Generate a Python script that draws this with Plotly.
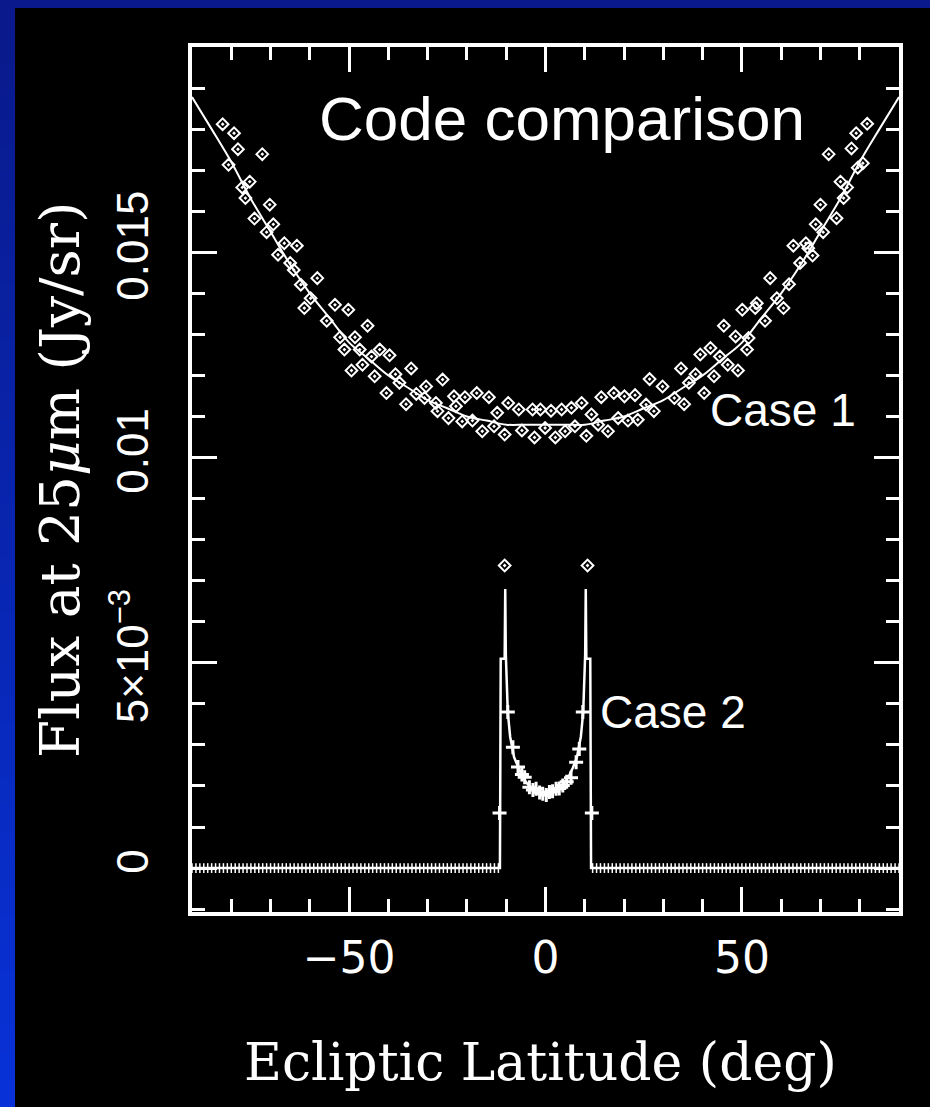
import plotly.graph_objects as go

# ---------------- data ----------------
# Case 1 model curve (ecliptic latitude in deg, flux in Jy/sr)
case1_model_lat = [-90, -85, -80, -75, -70, -65, -60, -55, -50, -45, -40, -35, -30, -25, -20, -15, -10, -5, 0,
                   5, 10, 15, 20, 25, 30, 35, 40, 45, 50, 55, 60, 65, 70, 75, 80, 85, 90]
case1_model_val = [0.01878, 0.0180, 0.0172, 0.0163, 0.0155, 0.0147, 0.0140, 0.0134, 0.0128, 0.0124, 0.0120,
                   0.0117, 0.0114, 0.0112, 0.0110, 0.0109, 0.0108, 0.0108, 0.0108,
                   0.0108, 0.0108, 0.0109, 0.0110, 0.0112, 0.0114, 0.0117, 0.0120, 0.0124, 0.0128, 0.0134,
                   0.0140, 0.0147, 0.0155, 0.0163, 0.0172, 0.0180, 0.01878]

# Case 1 simulated points (scattered)
case1_pts_lat = [-82.2, -79.3, -78.3, -80.7, -72.1, -75.3, -77.2, -76.4, -74.1, -70.2, -69.3, -71.0, -66.5, -63.3,
                 -68.1, -65.0, -64.1, -62.3, -58.1, -59.8, -61.4, -55.7, -53.6, -50.2, -45.3, -52.3, -48.5, -51.2,
                 -47.3, -42.2, -39.7, -44.3, -46.6, -49.4, -43.5, -38.2, -34.2, -37.2, -40.5, -35.5, -32.9, -30.4,
                 -26.2, -30.8, -27.9, -27.5, -24.7, -23.3, -22.8, -20.5, -17.5, -14.4, -21.2, -18.6, -16.1, -12.3,
                 -13.1, -10.4, -9.5, -6.8, -3.3, -1.3, 1.4, -6.0, -2.8, -0.1, 2.5,
                 81.9, 79.1, 77.9, 72.1, 80.8, 79.5, 75.1, 76.8, 75.9, 70.0, 68.8, 70.7, 74.1, 63.1, 66.3, 66.9,
                 64.8, 62.0, 68.0, 57.2, 58.9, 60.6, 53.8, 53.4, 50.1, 55.9, 45.4, 48.4, 51.7, 51.3, 42.0, 39.4,
                 44.4, 46.4, 49.0, 42.9, 34.5, 38.2, 36.5, 40.4, 35.3, 26.5, 29.8, 32.8, 27.6, 25.6, 22.8, 20.1,
                 17.4, 14.2, 9.2, 11.7, 13.4, 15.9, 18.5, 21.0, 23.5, 6.6, 4.1, 7.5, 5.0, 10.4]
case1_pts_val = [0.01812, 0.01790, 0.01751, 0.01713, 0.01739, 0.01672, 0.01658, 0.01632, 0.01582, 0.01616, 0.01568,
                 0.01549, 0.01522, 0.01516, 0.01494, 0.01474, 0.01457, 0.01421, 0.01437, 0.01388, 0.01364, 0.01333,
                 0.01372, 0.01360, 0.01321, 0.01293, 0.01293, 0.01263, 0.01263, 0.01263, 0.01249, 0.01246, 0.01226,
                 0.01212, 0.01198, 0.01203, 0.01217, 0.01182, 0.01157, 0.01130, 0.01155, 0.01173, 0.01190, 0.01145,
                 0.01133, 0.01113, 0.01096, 0.01149, 0.01125, 0.01147, 0.01157, 0.01147, 0.01088, 0.01090, 0.01064,
                 0.01109, 0.01076, 0.01056, 0.01133, 0.01117, 0.01117, 0.01117, 0.01114, 0.01066, 0.01049, 0.01072,
                 0.01049,
                 0.01813, 0.01790, 0.01753, 0.01739, 0.01717, 0.01706, 0.01672, 0.01658, 0.01632, 0.01616, 0.01568,
                 0.01549, 0.01583, 0.01516, 0.01522, 0.01510, 0.01474, 0.01422, 0.01492, 0.01437, 0.01388, 0.01364,
                 0.01376, 0.01364, 0.01360, 0.01333, 0.01321, 0.01295, 0.01291, 0.01263, 0.01267, 0.01251, 0.01246,
                 0.01226, 0.01212, 0.01198, 0.01217, 0.01203, 0.01182, 0.01157, 0.01130, 0.01191, 0.01173, 0.01145,
                 0.01113, 0.01129, 0.01152, 0.01149, 0.01157, 0.01147, 0.01133, 0.01105, 0.01080, 0.01064, 0.01096,
                 0.01090, 0.01092, 0.01121, 0.01117, 0.01076, 0.01064, 0.01053]

# Case 2 model curve
case2_model_lat = [-90, -11.6, -11.4, -10.4, -10.25, -10.1, -9.6, -9, -8, -7, -6, -5, -4, -3, -2, -1, 0,
                   1, 2, 3, 4, 5, 6, 7, 8, 9, 9.6, 10.1, 10.25, 10.4, 11.4, 11.6, 90]
case2_model_val = [0.0, 0.0, 0.0051, 0.0051, 0.0068, 0.0052, 0.0038, 0.0032, 0.0027, 0.00245, 0.00225, 0.0021,
                   0.00198, 0.0019, 0.00185, 0.0018, 0.00178,
                   0.0018, 0.00185, 0.0019, 0.00198, 0.0021, 0.00225, 0.00245, 0.0027, 0.0032, 0.0038, 0.0052,
                   0.0068, 0.0051, 0.0051, 0.0, 0.0]

# Case 2 simulated points inside the band
case2_pts_lat = [-11.7, -9.6, -8.3, -7.0, -6.0, -5.3, -4.1, -3.2, -2.4, -1.5, -0.7, 0.2, 1.0, 1.8, 2.7, 3.5,
                 4.4, 5.4, 6.5, 7.8, 8.6, 9.5, 11.8]
case2_pts_val = [0.00134, 0.0038, 0.00294, 0.00246, 0.00228, 0.00221, 0.00197, 0.0019, 0.00193, 0.00184, 0.00181,
                 0.00178, 0.00185, 0.00187, 0.00193, 0.00194, 0.00201, 0.0021, 0.0022, 0.00258, 0.0029, 0.0038,
                 0.00134]
case2_peak_lat = [-10.4, 10.7]
case2_peak_val = [0.00737, 0.00737]

# Case 2 points outside the band (zero flux), one per degree
case2_zero_lat = [-90, -89, -88, -87, -86, -85, -84, -83, -82, -81, -80, -79, -78, -77, -76, -75, -74, -73, -72,
                  -71, -70, -69, -68, -67, -66, -65, -64, -63, -62, -61, -60, -59, -58, -57, -56, -55, -54, -53,
                  -52, -51, -50, -49, -48, -47, -46, -45, -44, -43, -42, -41, -40, -39, -38, -37, -36, -35, -34,
                  -33, -32, -31, -30, -29, -28, -27, -26, -25, -24, -23, -22, -21, -20, -19, -18, -17, -16, -15,
                  -14, -13, -12,
                  12, 13, 14, 15, 16, 17, 18, 19, 20, 21, 22, 23, 24, 25, 26, 27, 28, 29, 30, 31, 32, 33, 34, 35,
                  36, 37, 38, 39, 40, 41, 42, 43, 44, 45, 46, 47, 48, 49, 50, 51, 52, 53, 54, 55, 56, 57, 58, 59,
                  60, 61, 62, 63, 64, 65, 66, 67, 68, 69, 70, 71, 72, 73, 74, 75, 76, 77, 78, 79, 80, 81, 82, 83,
                  84, 85, 86, 87, 88, 89, 90]
case2_zero_val = [0.0] * len(case2_zero_lat)

x_tickvals = [-50, 0, 50]
x_ticktext = ["\u221250", "0", "50"]
y_tickvals = [0, 0.005, 0.01, 0.015]
y_ticktext = ["0", "5\u00d710<sup>\u22123</sup>", "0.01", "0.015"]

# ---------------- layout helpers ----------------
W, H = 930, 1107
L, R, T, B = 192, 31, 47, 195
PW, PH = W - L - R, H - T - B


def px(xp):
    return (xp - L) / PW


def py(yp):
    return (H - B - yp) / PH


WHITE = "white"
fig = go.Figure()

fig.add_trace(go.Scatter(x=case2_model_lat, y=case2_model_val, mode="lines",
                         line=dict(color=WHITE, width=2.5), showlegend=False, hoverinfo="skip"))
fig.add_trace(go.Scatter(x=case2_zero_lat, y=case2_zero_val, mode="markers",
                         marker=dict(symbol="line-ns", size=7, line=dict(color=WHITE, width=1.5)),
                         showlegend=False, hoverinfo="skip"))
fig.add_trace(go.Scatter(x=case2_pts_lat, y=case2_pts_val, mode="markers",
                         marker=dict(symbol="cross-thin", size=10, line=dict(color=WHITE, width=3)),
                         showlegend=False, hoverinfo="skip"))
fig.add_trace(go.Scatter(x=case2_peak_lat, y=case2_peak_val, mode="markers",
                         marker=dict(symbol="diamond-open-dot", size=9, color=WHITE, line=dict(color=WHITE, width=2)),
                         showlegend=False, hoverinfo="skip"))
fig.add_trace(go.Scatter(x=case1_model_lat, y=case1_model_val, mode="lines",
                         line=dict(color=WHITE, width=2), line_shape="spline", showlegend=False, hoverinfo="skip"))
fig.add_trace(go.Scatter(x=case1_pts_lat, y=case1_pts_val, mode="markers",
                         marker=dict(symbol="diamond-open-dot", size=9, color=WHITE, line=dict(color=WHITE, width=2)),
                         showlegend=False, hoverinfo="skip"))

axis_common = dict(showline=True, linecolor=WHITE, linewidth=4, mirror="allticks", ticks="inside",
                   tickcolor=WHITE, tickwidth=3, ticklen=25, showgrid=False, zeroline=False)

fig.update_xaxes(range=[-90, 90], tickmode="array", tickvals=x_tickvals, ticktext=x_ticktext,
                 tickfont=dict(family="DejaVu Sans", size=44, color=WHITE), ticklabelstandoff=4,
                 minor=dict(ticks="inside", ticklen=13, tickwidth=3, tickcolor=WHITE, tickmode="linear",
                            tick0=0, dtick=10, showgrid=False),
                 **axis_common)
fig.update_yaxes(range=[-0.00107, 0.02], tickmode="array", tickvals=y_tickvals, ticktext=y_ticktext,
                 tickangle=-90,
                 tickfont=dict(family="Liberation Sans, Arial", size=44, color=WHITE), ticklabelstandoff=22,
                 minor=dict(ticks="inside", ticklen=13, tickwidth=3, tickcolor=WHITE, tickmode="linear",
                            tick0=0, dtick=0.001, showgrid=False),
                 **axis_common)

# slide background: blue strips on top and left edge
TOPBAR = 8
shapes = [dict(type="rect", xref="paper", yref="paper", x0=px(0), x1=px(W), y0=py(TOPBAR), y1=py(0),
               fillcolor="rgb(10,26,140)", line=dict(width=0), layer="below")]
n = 40
for i in range(n):
    y0p = TOPBAR + (H - TOPBAR) * i / n
    y1p = TOPBAR + (H - TOPBAR) * (i + 1) / n + 3
    t = i / (n - 1)
    col = "rgb(%d,%d,%d)" % (10 - 2 * t, 26 + 24 * t, 140 + 75 * t)
    shapes.append(dict(type="rect", xref="paper", yref="paper", x0=px(0), x1=px(15),
                       y0=py(min(y1p, H)), y1=py(y0p), fillcolor=col, line=dict(width=0), layer="below"))

annotations = [
    dict(text="Code comparison", x=px(562), y=py(119), xref="paper", yref="paper", showarrow=False,
         xanchor="center", yanchor="middle", font=dict(family="Liberation Sans, Arial", size=62, color=WHITE)),
    dict(text="Case 1", x=px(783), y=py(410), xref="paper", yref="paper", showarrow=False,
         xanchor="center", yanchor="middle", font=dict(family="Liberation Sans, Arial", size=46, color=WHITE)),
    dict(text="Case 2", x=px(598), y=py(712), xref="paper", yref="paper", showarrow=False,
         xanchor="left", yanchor="middle", font=dict(family="Liberation Sans, Arial", size=46, color=WHITE)),
    dict(text="Ecliptic Latitude (deg)", x=px(540), y=py(1062), xref="paper", yref="paper", showarrow=False,
         xanchor="center", yanchor="middle", font=dict(family="DejaVu Serif", size=52, color=WHITE)),
    dict(text="Flux at 25<i>\u03bc</i>m (Jy/sr)", x=px(60), y=py(480), xref="paper", yref="paper",
         showarrow=False, textangle=-90, xanchor="center", yanchor="middle",
         font=dict(family="DejaVu Serif", size=55, color=WHITE)),
]

fig.update_layout(width=W, height=H, margin=dict(l=L, r=R, t=T, b=B, autoexpand=False),
                  paper_bgcolor="black", plot_bgcolor="black", shapes=shapes, annotations=annotations,
                  showlegend=False, hovermode=False)

fig.write_html("out.html", config={"displayModeBar": False, "staticPlot": True},
               post_script="document.body.style.margin='0px';document.body.style.background='black';")
